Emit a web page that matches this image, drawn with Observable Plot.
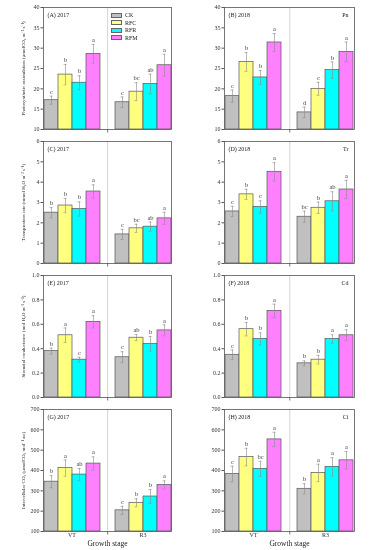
<!DOCTYPE html>
<html><head><meta charset="utf-8">
<script src="https://cdn.jsdelivr.net/npm/d3@7"></script>
<script src="https://cdn.jsdelivr.net/npm/@observablehq/plot@0.6"></script>
<style>
body{margin:0;background:#fff;}
#fig{position:relative;width:373px;height:550px;font-family:"Liberation Serif",serif;overflow:hidden;}
.panel{position:absolute;will-change:transform;}
.panel svg{background:transparent;}
.lg{position:absolute;left:111px;font-size:6px;line-height:6px;color:#222;}
.lg span.sw{position:absolute;left:0;width:11px;height:5px;box-sizing:border-box;border:0.7px solid #666;}
.lg span.tx{position:absolute;left:14px;top:-0.5px;white-space:nowrap;}
</style></head><body><div id="fig"></div>
<script>
const stages = ["VT", "R3"];
const treatments = ["CK", "RFC", "RFR", "RFM"];
const colors = ["#c0c0c0", "#ffff80", "#00ffff", "#ff80ff"];

// order: VT(CK,RFC,RFR,RFM), R3(CK,RFC,RFR,RFM)
const pn2017 = [17.2, 23.5, 21.5, 28.6, 16.7, 19.3, 21.2, 25.8];
const pn2017Err = [1.0, 2.5, 1.7, 2.3, 1.3, 2.2, 2.4, 2.7];
const pn2017Sig = ["c", "b", "b", "a", "c", "bc", "ab", "a"];
const pn2018 = [18.2, 26.6, 22.8, 31.4, 14.2, 20.0, 24.6, 29.1];
const pn2018Err = [1.5, 2.3, 1.7, 2.2, 1.3, 1.6, 2.0, 2.4];
const pn2018Sig = ["c", "b", "b", "a", "d", "c", "b", "a"];

const tr2017 = [2.50, 2.85, 2.68, 3.54, 1.43, 1.73, 1.81, 2.22];
const tr2017Err = [0.25, 0.35, 0.35, 0.33, 0.25, 0.20, 0.23, 0.30];
const tr2017Sig = ["b", "b", "b", "a", "c", "bc", "ab", "a"];
const tr2018 = [2.56, 3.40, 2.78, 4.51, 2.30, 2.74, 3.06, 3.64];
const tr2018Err = [0.25, 0.25, 0.30, 0.45, 0.27, 0.28, 0.47, 0.45];
const tr2018Sig = ["c", "b", "c", "a", "bc", "b", "ab", "a"];

const cd2017 = [0.38, 0.51, 0.31, 0.62, 0.33, 0.49, 0.44, 0.55];
const cd2017Err = [0.025, 0.06, 0.02, 0.05, 0.045, 0.025, 0.06, 0.045];
const cd2017Sig = ["b", "a", "c", "a", "c", "ab", "b", "a"];
const cd2018 = [0.35, 0.56, 0.48, 0.71, 0.28, 0.31, 0.48, 0.51];
const cd2018Err = [0.04, 0.055, 0.05, 0.055, 0.02, 0.035, 0.035, 0.045];
const cd2018Sig = ["c", "b", "b", "a", "b", "b", "a", "a"];

const ci2017 = [345, 412, 380, 434, 204, 241, 272, 329];
const ci2017Err = [30, 40, 30, 33, 20, 20, 34, 20];
const ci2017Sig = ["b", "a", "ab", "a", "c", "b", "b", "a"];
const ci2018 = [383, 466, 408, 553, 310, 388, 418, 450];
const ci2018Err = [38, 43, 37, 35, 25, 43, 45, 43];
const ci2018Sig = ["c", "b", "bc", "a", "b", "a", "a", "a"];

const pnTicks = [10, 15, 20, 25, 30, 35, 40];
const trTicks = [0, 1, 2, 3, 4, 5, 6];
const cdTicks = [0, 0.2, 0.4, 0.6, 0.8, 1.0];
const ciTicks = [100, 200, 300, 400, 500, 600, 700];

const yLabels = [
  "Photosynthetic assimilation (μmolCO₂ m⁻² s⁻¹)",
  "Transpiration rate (mmol H₂O m⁻² s⁻¹)",
  "Stomatal conductance (mol H₂O m⁻² s⁻¹)",
  "Intercellular CO₂ (μmolCO₂ mol⁻¹ air)"
];
const tags2017 = ["(A) 2017", "(C) 2017", "(E) 2017", "(G) 2017"];
const tags2018 = ["(B) 2018", "(D) 2018", "(F) 2018", "(H) 2018"];
const varTags = ["Pn", "Tr", "Cd", "Ci"];

const rowsCfg = [
  {ticks: pnTicks, fmt: d => d, y: [pn2017, pn2018], e: [pn2017Err, pn2018Err], s: [pn2017Sig, pn2018Sig]},
  {ticks: trTicks, fmt: d => d, y: [tr2017, tr2018], e: [tr2017Err, tr2018Err], s: [tr2017Sig, tr2018Sig]},
  {ticks: cdTicks, fmt: d3.format(".1f"), y: [cd2017, cd2018], e: [cd2017Err, cd2018Err], s: [cd2017Sig, cd2018Sig]},
  {ticks: ciTicks, fmt: d => d, y: [ci2017, ci2018], e: [ci2017Err, ci2018Err], s: [ci2017Sig, ci2018Sig]}
];

const fig = document.getElementById("fig");
const frameTops = [7, 141, 275, 409];
const innerH = 122;
const font = "Liberation Serif, Times New Roman, serif";

function makePanel(r, c) {
  const cfg = rowsCfg[r];
  const vals = cfg.y[c], errs = cfg.e[c], sig = cfg.s[c];
  const table = stages.flatMap((s, i) => treatments.map((t, j) => ({
    stage: s, treatment: t, value: vals[i * 4 + j], err: errs[i * 4 + j], sig: sig[i * 4 + j]
  })));
  const left = c === 0;
  const W = left ? 188 : 185;
  const mL = left ? 28 : 21;
  const mR = left ? 3 : 4;
  const bottom = r === 3;
  const mT = 7, mB = bottom ? 19 : 5;
  const H = mT + innerH + mB;
  const pad = 0.2;
  const innerW = W - mL - mR;
  const half = innerW / (2 + pad) * pad / 2;
  const y0 = cfg.ticks[0], y1 = cfg.ticks[cfg.ticks.length - 1];
  const marks = [
    Plot.frame({anchor: "right", facetAnchor: "left", dx: half, stroke: "#d4d4d4", strokeWidth: 1}),
    Plot.frame({anchor: "right", facetAnchor: "left", dx: half, insetTop: innerH, insetBottom: -2.5, stroke: "#555", strokeWidth: 0.8}),
    Plot.barY(table, {fx: "stage", x: "treatment", y1: () => y0, y2: "value", fill: "treatment", stroke: "#555", strokeWidth: 0.7, inset: 0}),
    Plot.ruleX(table, {fx: "stage", x: "treatment", y1: d => d.value - d.err, y2: d => d.value + d.err, stroke: "#8a8a8a", strokeWidth: 0.6}),
    Plot.tickY(table, {fx: "stage", x: "treatment", y: d => d.value + d.err, insetLeft: 5.5, insetRight: 5.5, stroke: "#8a8a8a", strokeWidth: 0.6}),
    Plot.tickY(table, {fx: "stage", x: "treatment", y: d => d.value - d.err, insetLeft: 5.5, insetRight: 5.5, stroke: "#8a8a8a", strokeWidth: 0.6}),
    Plot.text(table, {fx: "stage", x: "treatment", y: d => d.value + d.err, text: "sig", dy: -4.5, fontSize: 6.5, fill: "#444"}),
    Plot.frame({facet: "super", stroke: "#555", strokeWidth: 0.8}),
    Plot.axisY({ticks: cfg.ticks, tickFormat: cfg.fmt, tickSize: 2.5, tickPadding: 1.5, label: null, fontSize: 6, stroke: "#555"}),
    Plot.text([left ? tags2017[r] : tags2018[r]], {facet: "super", frameAnchor: "top-left", dx: 4, dy: 5, fontSize: 6, fill: "#222"})
  ];
  if (left) {
    marks.push(Plot.text([yLabels[r]], {facet: "super", frameAnchor: "left", rotate: -90, dx: -20.5, fontSize: 5, fill: "#222", textAnchor: "middle", lineAnchor: "middle"}));
  } else {
    marks.push(Plot.text([varTags[r]], {facet: "super", frameAnchor: "top-right", dx: -6, dy: 5, fontSize: 6, fill: "#222"}));
  }
  if (bottom) {
    marks.push(Plot.axisFx({anchor: "bottom", tickSize: 0, tickPadding: 1.5, label: null, fontSize: 6}));
    marks.push(Plot.text(["Growth stage"], {facet: "super", frameAnchor: "bottom", dy: 12, lineAnchor: "middle", fontSize: 7.5, fill: "#222"}));
  }
  const plot = Plot.plot({
    width: W, height: H,
    marginLeft: mL, marginRight: mR, marginTop: mT, marginBottom: mB,
    style: {fontFamily: font, fontSize: "6px", color: "#333", background: "transparent"},
    fx: {domain: stages, paddingInner: pad, paddingOuter: pad, axis: null, label: null},
    x: {domain: treatments, padding: 0, axis: null},
    y: {domain: [y0, y1], axis: null},
    color: {domain: treatments, range: colors},
    marks
  });
  const div = document.createElement("div");
  div.className = "panel";
  div.style.left = (left ? 0 : 188) + "px";
  div.style.top = (frameTops[r] - mT) + "px";
  div.appendChild(plot);
  fig.appendChild(div);
}

for (let r = 0; r < 4; r++) for (let c = 0; c < 2; c++) makePanel(r, c);

// legend in panel A
const legendTops = [12.5, 20, 27.5, 35];
treatments.forEach((t, i) => {
  const g = document.createElement("div");
  g.className = "lg";
  g.style.top = legendTops[i] + "px";
  const sw = document.createElement("span");
  sw.className = "sw";
  sw.style.background = colors[i];
  const tx = document.createElement("span");
  tx.className = "tx";
  tx.textContent = t;
  g.appendChild(sw); g.appendChild(tx);
  fig.appendChild(g);
});
</script>
</body></html>
